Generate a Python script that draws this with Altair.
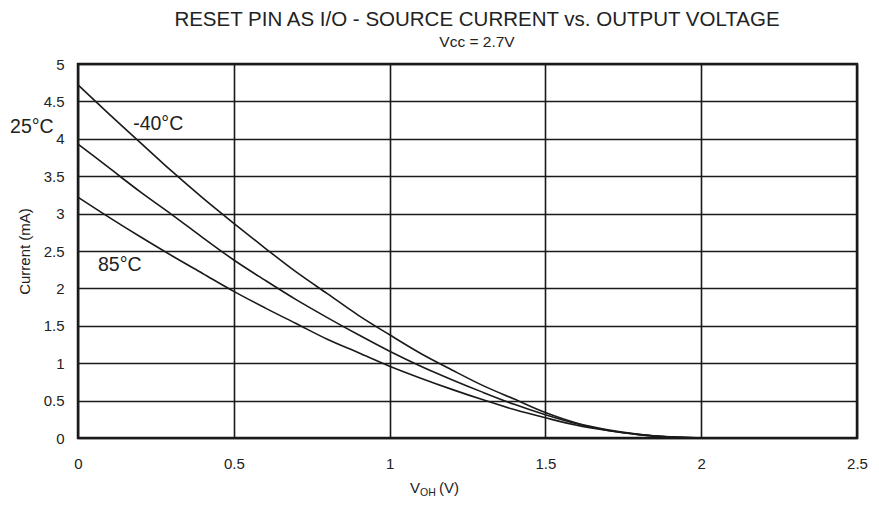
import altair as alt
import pandas as pd

# ---- data ----
voh = [0.0, 0.1, 0.2, 0.3, 0.4, 0.5, 0.6, 0.7, 0.8, 0.9, 1.0,
       1.1, 1.2, 1.3, 1.4, 1.5, 1.6, 1.7, 1.8, 1.9, 2.0]
i_m40 = [4.72, 4.33, 3.95, 3.57, 3.21, 2.87, 2.54, 2.22, 1.93, 1.64, 1.38,
         1.13, 0.91, 0.70, 0.52, 0.34, 0.20, 0.11, 0.05, 0.015, 0.0]
i_25 = [3.93, 3.61, 3.29, 2.99, 2.68, 2.38, 2.11, 1.85, 1.61, 1.38, 1.16,
        0.96, 0.78, 0.61, 0.45, 0.31, 0.19, 0.10, 0.045, 0.012, 0.0]
i_85 = [3.22, 2.95, 2.69, 2.44, 2.20, 1.96, 1.74, 1.53, 1.32, 1.14, 0.96,
        0.80, 0.65, 0.51, 0.38, 0.27, 0.17, 0.10, 0.045, 0.012, 0.0]
temps = ["-40°C", "25°C", "85°C"]

label_text = ["-40°C", "25°C", "85°C"]
label_x = [0.177, -0.218, 0.064]
label_y = [4.12, 4.08, 2.23]

x_ticks = [0, 0.5, 1, 1.5, 2, 2.5]
y_ticks = [0, 0.5, 1, 1.5, 2, 2.5, 3, 3.5, 4, 4.5, 5]

title_text = "RESET PIN AS I/O - SOURCE CURRENT vs. OUTPUT VOLTAGE"
subtitle_text = "Vcc = 2.7V"
x_title_parts = ["V", "OH", "(V)"]
y_title = "Current (mA)"

FONT = "Liberation Sans"
INK = "#1a1a1a"
TXT = "#222222"

rows = []
for t, vals in zip(temps, [i_m40, i_25, i_85]):
    for v, i in zip(voh, vals):
        rows.append({"v": v, "i": i, "temp": t})
df = pd.DataFrame(rows)

xs = alt.Scale(domain=[0, 2.5], nice=False, zero=False)
ys = alt.Scale(domain=[0, 5], nice=False, zero=False)

x_axis = alt.Axis(
    values=x_ticks, format="~g", title=None, ticks=False, domain=False,
    grid=True, gridColor=INK, gridWidth=1.6, gridOpacity=1,
    labelFont=FONT, labelFontSize=15, labelColor=TXT, labelPadding=18,
    labelFlush=False, labelOverlap=False)
y_axis = alt.Axis(
    values=y_ticks, format="~g", title=y_title, ticks=False, domain=False,
    grid=True, gridColor=INK, gridWidth=1.6, gridOpacity=1,
    labelFont=FONT, labelFontSize=15, labelColor=TXT, labelPadding=14,
    labelFlush=False, labelOverlap=False,
    titleFont=FONT, titleFontSize=15, titleFontWeight="normal",
    titleColor=TXT, titlePadding=11)

lines = alt.Chart(df).mark_line(color=INK, strokeWidth=1.6, interpolate="monotone").encode(
    x=alt.X("v:Q", scale=xs, axis=x_axis),
    y=alt.Y("i:Q", scale=ys, axis=y_axis),
    detail="temp:N",
)

lab_df = pd.DataFrame({"t": label_text, "x": label_x, "y": label_y})
labels = alt.Chart(lab_df).mark_text(
    align="left", baseline="alphabetic", font=FONT, fontSize=19.5, color=TXT
).encode(x=alt.X("x:Q", scale=xs, axis=x_axis),
         y=alt.Y("y:Q", scale=ys, axis=y_axis), text="t:N")

def txt(s, x, y, size, align="center"):
    return alt.Chart(pd.DataFrame({"t": [s]})).mark_text(
        align=align, baseline="alphabetic", font=FONT, fontSize=size, color=TXT
    ).encode(x=alt.value(x), y=alt.value(y), text="t:N")

title = txt(title_text, 399, -38, 20.5)
subtitle = txt(subtitle_text, 399, -17, 15.5)
xt1 = txt(x_title_parts[0], 332, 429, 15, "left")
xt2 = txt(x_title_parts[1], 342, 432, 10.5, "left")
xt3 = txt(x_title_parts[2], 361, 429, 15, "left")

chart = alt.layer(lines, labels, title, subtitle, xt1, xt2, xt3).properties(
    width=779, height=374,
    autosize=alt.AutoSizeParams(type="none"),
    padding={"left": 70, "top": 56, "right": 13, "bottom": 62},
).configure_view(stroke=INK, strokeWidth=2.5)

chart.save("out.html", embed_options={"renderer": "svg", "actions": False})
